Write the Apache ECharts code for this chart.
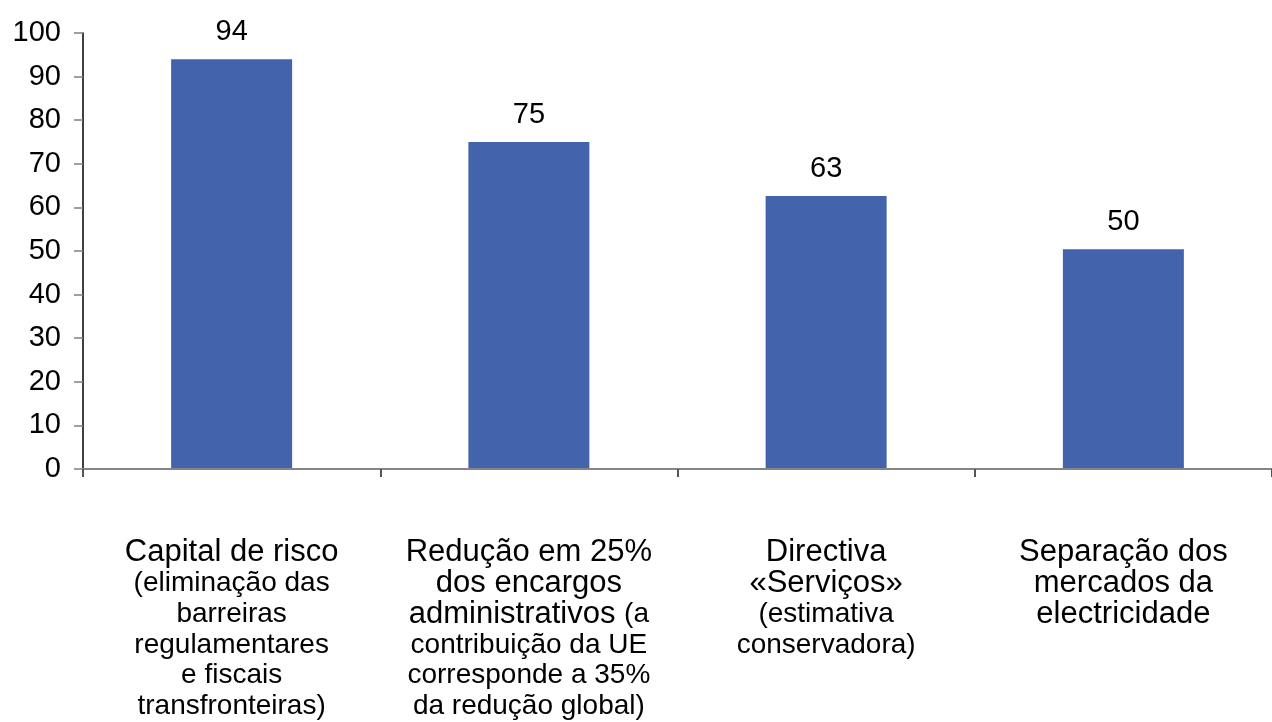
<!DOCTYPE html>
<html>
<head>
<meta charset="utf-8">
<script src="https://cdn.jsdelivr.net/npm/echarts@6/dist/echarts.min.js"></script>
<style>
html,body{margin:0;padding:0;background:#fff;}
#chart{width:1272px;height:722px;}
</style>
</head>
<body>
<div id="chart"></div>
<script>
const categories = [
  "Capital de risco\n(eliminação das\nbarreiras\nregulamentares\ne fiscais\ntransfronteiras)",
  "Redução em 25%\ndos encargos\nadministrativos (a\ncontribuição da UE\ncorresponde a 35%\nda redução global)",
  "Directiva\n«Serviços»\n(estimativa\nconservadora)",
  "Separação dos\nmercados da\nelectricidade"
];
const values = [94, 75, 62.6, 50.4];
const yMin = 0, yMax = 100, yStep = 10;

function richLabel(str) {
  let inParen = false;
  return str.split('\n').map(function (line) {
    let out = '', buf = '', cur = inParen;
    const flush = function () {
      if (buf.length) out += '{' + (cur ? 's' : 'm') + '|' + buf + '}';
      buf = '';
    };
    for (const ch of line) {
      if (ch === '(' && !inParen) { flush(); inParen = true; cur = true; buf += ch; }
      else if (ch === ')' && inParen) { buf += ch; flush(); inParen = false; cur = false; }
      else buf += ch;
    }
    flush();
    return out;
  }).join('\n');
}

const FONT = '"Liberation Sans", Arial, sans-serif';
const chart = echarts.init(document.getElementById('chart'), null, {renderer: 'canvas'});
chart.setOption({
  animation: false,
  backgroundColor: '#ffffff',
  textStyle: {fontFamily: FONT},
  grid: {left: 83, top: 33, width: 1194, height: 436, containLabel: false},
  xAxis: {
    type: 'category',
    data: categories,
    z: 3,
    axisLine: {lineStyle: {color: '#858585', width: 2}},
    axisTick: {show: true, length: 8, lineStyle: {color: '#555555', width: 2}},
    axisLabel: {
      interval: 0,
      margin: 68,
      color: '#000',
      formatter: function (v) { return richLabel(v); },
      rich: {
        m: {fontSize: 31, lineHeight: 30.8, color: '#000', align: 'center', fontFamily: FONT},
        s: {fontSize: 28, lineHeight: 30.8, color: '#000', align: 'center', fontFamily: FONT}
      }
    }
  },
  yAxis: {
    type: 'value',
    min: yMin, max: yMax, interval: yStep,
    axisLine: {show: true, lineStyle: {color: '#000', width: 1.5}},
    axisTick: {show: true, length: 9, lineStyle: {color: '#808080', width: 1.5}},
    splitLine: {show: false},
    axisLabel: {fontSize: 29, color: '#000', margin: 22}
  },
  series: [{
    type: 'bar',
    data: values,
    barWidth: 121,
    itemStyle: {color: '#4364ad'},
    label: {
      show: true,
      position: 'top',
      distance: 13,
      fontSize: 29,
      color: '#000',
      formatter: function (p) { return Math.round(p.value); }
    }
  }]
});
</script>
</body>
</html>
